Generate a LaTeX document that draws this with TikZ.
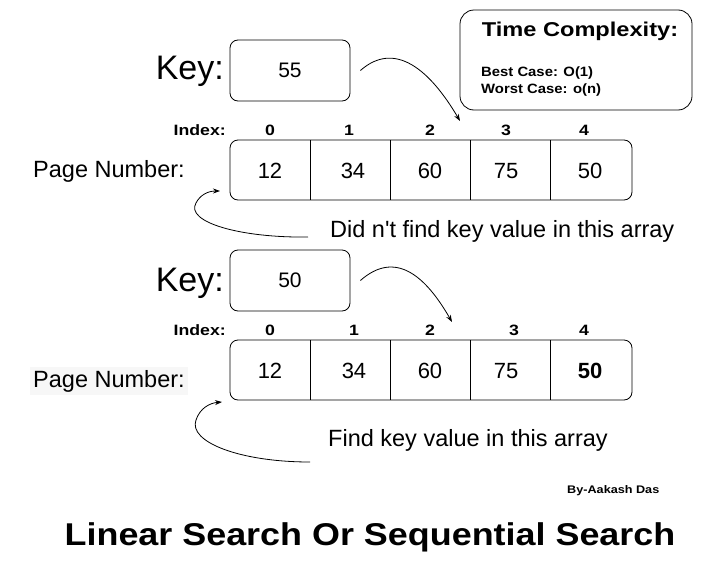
\documentclass[tikz,border=0pt]{standalone}
\usepackage{fontspec}
\setmainfont{Liberation Sans}
\usetikzlibrary{arrows.meta,positioning}
\newcommand{\txtsize}[1]{\fontsize{#1}{#1}\selectfont}

\begin{document}
\begin{tikzpicture}[x=1pt,y=-1pt,
  box/.style={draw,rounded corners=8pt,line width=0.8pt,inner sep=0pt},
  lbl/.style={font=\txtsize{23.5},inner sep=0pt},
  val/.style={font=\txtsize{22},inner sep=0pt},
  bld/.style={font=\bfseries\txtsize{#1},inner sep=0pt},
  curv/.style={line width=0.8pt,-{Stealth[length=7pt,width=5pt]}}]
\useasboundingbox (0,0) rectangle (721,581);

% complexity box
\node[box,rounded corners=14pt,minimum width=232pt,minimum height=100pt] (tc) at (576,60) {};
\node[bld=20,xscale=1.18] (tct) at (580,31) {Time Complexity:};
\node[bld=13.5,anchor=west,xscale=1.1] (best) at (481,73) {Best Case: O(1)};
\node[bld=13.5,anchor=west,xscale=1.1] (worst) at (481,90) {Worst Case: o(n)};

% first search
\node[box,minimum width=120pt,minimum height=61pt,font=\txtsize{21}] (key1) at (290,70.5) {55};
\node[font=\txtsize{34},inner sep=0pt,anchor=east] (kl1) at (224,71) {Key:};
\node[bld=15,anchor=east,xscale=1.18] (ix1) at (226,130) {Index:};
\foreach \i/\x in {0/270,1/349,2/430,3/506,4/584}
  \node[bld=15,xscale=1.18] (ia\i) at (\x,130) {\i};
\node[box,minimum width=402pt,minimum height=60pt] (arr1) at (431,170) {};
\foreach \x in {310,390,470,550}
  \draw[line width=0.8pt] (\x,140) -- (\x,200);
\foreach \i/\x/\v in {0/270/12,1/353/34,2/430/60,3/506/75,4/590/50}
  \node[val] (va\i) at (\x,171) {\v};
\node[lbl,anchor=west] (pn1) at (33,171) {Page Number:};
\node[lbl,anchor=west] (msg1) at (330,231) {Did n\textquotesingle t find key value in this array};
\coordinate (tip1) at (460,121);
\coordinate (back1) at (220,191);
\draw[curv] ([xshift=10pt]key1.east) .. controls (395,40) and (430,70) .. (tip1);
\draw[curv] ([xshift=-22pt,yshift=-6pt]msg1.west) .. controls (240,238) and (185,222) .. (196,203)
  .. controls (200,195) and (208,191) .. (back1);

% second search
\node[box,minimum width=120pt,minimum height=61pt,font=\txtsize{21}] (key2) at (290,280.5) {50};
\node[font=\txtsize{34},inner sep=0pt,anchor=east] (kl2) at (224,283) {Key:};
\node[bld=15,anchor=east,xscale=1.18] (ix2) at (226,330) {Index:};
\foreach \i/\x in {0/270,1/354,2/430,3/514,4/584}
  \node[bld=15,xscale=1.18] (ib\i) at (\x,330) {\i};
\node[box,minimum width=402pt,minimum height=60pt] (arr2) at (431,370) {};
\foreach \x in {310,390,470,550}
  \draw[line width=0.8pt] (\x,340) -- (\x,400);
\foreach \i/\x/\v in {0/270/12,1/354/34,2/430/60,3/506/75}
  \node[val] (vb\i) at (\x,371) {\v};
\node[val,font=\bfseries\txtsize{22}] (vb4) at (590,371) {50};
\node[lbl,anchor=west,fill=black!3,inner sep=3pt] (pn2) at (30,381) {Page Number:};
\node[lbl,anchor=west] (msg2) at (328,440) {Find key value in this array};
\coordinate (tip2) at (452,322);
\coordinate (back2) at (222,402);
\draw[curv] ([xshift=10pt]key2.east) .. controls (395,250) and (425,275) .. (tip2);
\draw[curv] ([xshift=-18pt,yshift=-22pt]msg2.west) .. controls (240,462) and (188,442) .. (196,420)
  .. controls (200,408) and (210,403) .. (back2);

% footer
\node[bld=11,anchor=west,xscale=1.15] (auth) at (567,491) {By-Aakash Das};
\node[bld=31.5,xscale=1.14] (title) at (370,537) {Linear Search Or Sequential Search};
\end{tikzpicture}
\end{document}
